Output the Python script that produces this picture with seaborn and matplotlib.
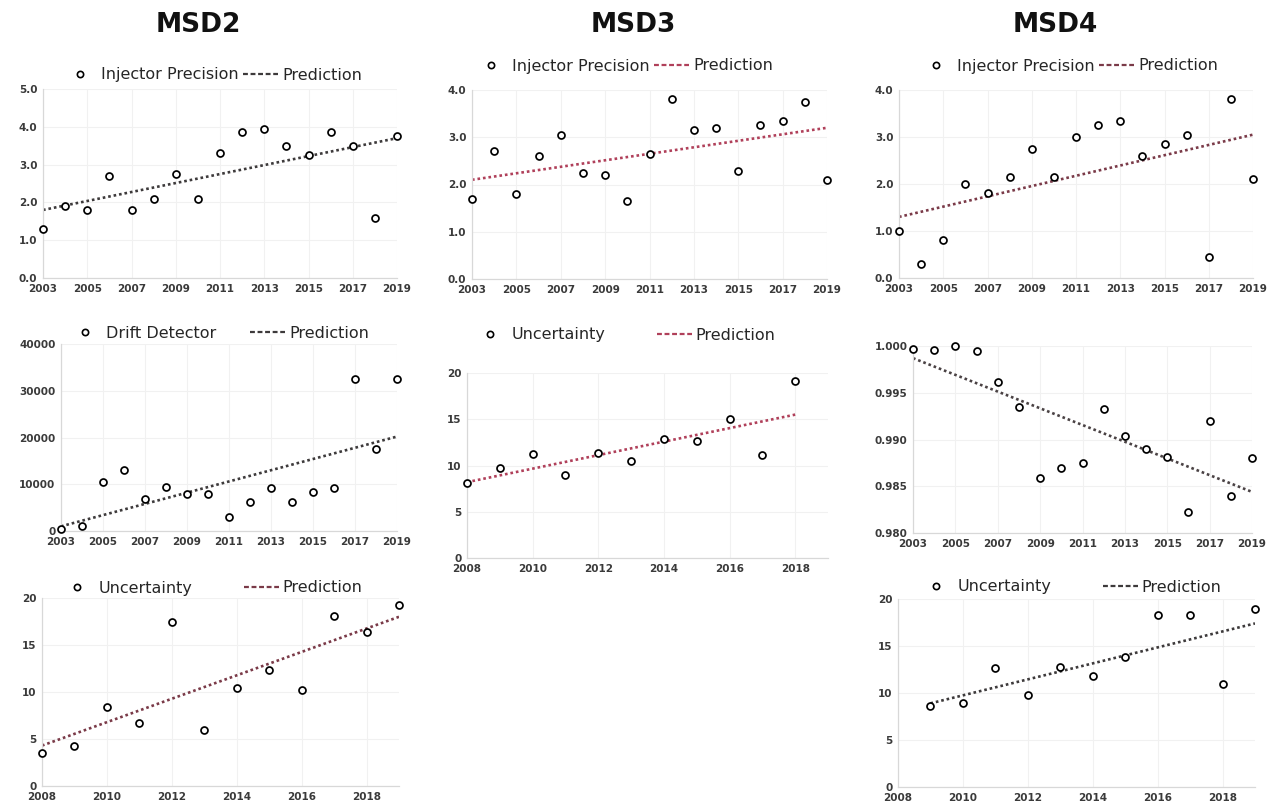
import matplotlib
matplotlib.use("Agg")
import matplotlib.pyplot as plt
from matplotlib.lines import Line2D
import seaborn as sns
import pandas as pd

# ---------------- data ----------------
years_a = [2003, 2004, 2005, 2006, 2007, 2008, 2009, 2010, 2011,
           2012, 2013, 2014, 2015, 2016, 2017, 2018, 2019]
years_b = [2008, 2009, 2010, 2011, 2012, 2013, 2014, 2015, 2016, 2017, 2018]
years_c = [2008, 2009, 2010, 2011, 2012, 2013, 2014, 2015, 2016, 2017, 2018, 2019]
years_d = [2009, 2010, 2011, 2012, 2013, 2014, 2015, 2016, 2017, 2018, 2019]

msd2_injector = [1.3, 1.9, 1.8, 2.7, 1.8, 2.1, 2.75, 2.1, 3.3, 3.85, 3.95,
                 3.5, 3.25, 3.85, 3.5, 1.6, 3.75]
msd3_injector = [1.7, 2.7, 1.8, 2.6, 3.05, 2.25, 2.2, 1.65, 2.65, 3.8, 3.15,
                 3.2, 2.28, 3.25, 3.35, 3.75, 2.1]
msd4_injector = [1.0, 0.3, 0.8, 2.0, 1.8, 2.15, 2.75, 2.15, 3.0, 3.25, 3.35,
                 2.6, 2.85, 3.05, 0.45, 3.8, 2.1]
msd2_drift = [500, 1000, 10500, 13000, 6800, 9500, 8000, 8000, 3000, 6300,
              9300, 6300, 8300, 9300, 32500, 17500, 32500]
msd3_uncert = [8.1, 9.7, 11.2, 9.0, 11.4, 10.5, 12.9, 12.6, 15.0, 11.1, 19.1]
msd4_score = [0.9997, 0.9996, 1.0000, 0.9995, 0.9962, 0.9935, 0.9859, 0.9869,
              0.9875, 0.9933, 0.9904, 0.9890, 0.9881, 0.9822, 0.9920, 0.9840,
              0.9880]
msd2_uncert = [3.5, 4.3, 8.4, 6.7, 17.4, 6.0, 10.4, 12.3, 10.2, 18.1, 16.4, 19.3]
msd4_uncert = [8.6, 8.9, 12.7, 9.8, 12.8, 11.8, 13.8, 18.3, 18.3, 11.0, 18.9]

# prediction (trend line) end values
pred_msd2_injector = [1.8, 3.7]
pred_msd3_injector = [2.1, 3.2]
pred_msd4_injector = [1.3, 3.05]
pred_msd2_drift = [1000, 20200]
pred_msd3_uncert = [8.2, 15.5]
pred_msd4_score = [0.9987, 0.9844]
pred_msd2_uncert = [4.3, 18.0]
pred_msd4_uncert = [8.9, 17.4]

titles = ["MSD2", "MSD3", "MSD4"]
ticks_odd = [2003, 2005, 2007, 2009, 2011, 2013, 2015, 2017, 2019]
ticks_even = [2008, 2010, 2012, 2014, 2016, 2018]

# ---------------- style ----------------
sns.set_theme(style="white")
plt.rcParams["font.family"] = ["DejaVu Sans"]

W, H = 1269, 807
fig = plt.figure(figsize=(W / 100, H / 100), dpi=100)
fig.patch.set_facecolor("white")


def ax_at(l, r, t, b):
    return fig.add_axes([l / W, 1 - b / H, (r - l) / W, (b - t) / H])


def panel(box, xs, ys, pred, xlim, ylim, yticks, yfmt, xticks, color,
          label=None, leg_center=None, colsp=0.3):
    ax = ax_at(*box)
    df = pd.DataFrame({"year": xs, "value": ys})
    sns.lineplot(x=[xs[0], xs[-1]], y=pred, ax=ax, color=color,
                 linestyle=(0, (1, 1.1)), linewidth=1.9, zorder=2)
    sns.scatterplot(data=df, x="year", y="value", ax=ax, marker="o", s=25,
                    facecolor="white", edgecolor="black", linewidth=1.25,
                    legend=False, zorder=3, clip_on=False)
    ax.set_xlim(*xlim)
    ax.set_ylim(*ylim)
    ax.set_xticks(xticks)
    ax.set_xticklabels([str(t) for t in xticks])
    ax.set_yticks(yticks)
    ax.set_yticklabels([yfmt.format(v) for v in yticks])
    ax.set_xlabel("")
    ax.set_ylabel("")
    ax.tick_params(length=0, labelsize=7.5, labelcolor="#3a3a3a", pad=4)
    for lab in ax.get_xticklabels() + ax.get_yticklabels():
        lab.set_fontweight("bold")
    ax.grid(True, color="#f1f1f1", linewidth=0.8)
    for s in ["top", "right"]:
        ax.spines[s].set_visible(False)
    for s in ["left", "bottom"]:
        ax.spines[s].set_color("#d8d8d8")
        ax.spines[s].set_linewidth(0.9)
    if label is not None:
        handles = [
            Line2D([], [], linestyle="none", marker="o", markersize=4.5,
                   markerfacecolor="white", markeredgecolor="black",
                   markeredgewidth=1.2),
            Line2D([], [], color=color, linestyle=(0, (2.2, 1.2)),
                   linewidth=1.6),
        ]
        fig.legend(handles, [label, "Prediction"], loc="center",
                   bbox_to_anchor=(leg_center[0] / W, 1 - leg_center[1] / H),
                   bbox_transform=fig.transFigure, ncol=2, frameon=False,
                   fontsize=11.5, handlelength=2.2, handletextpad=0.25,
                   columnspacing=colsp, borderpad=0, borderaxespad=0)
    return ax


dark = "#3d3a3b"
red = "#b0405a"
maroon = "#7a3a48"

# row 1: injector precision
panel((43, 397, 89, 278), years_a, msd2_injector, pred_msd2_injector,
      (2003, 2019), (0, 5), [0, 1, 2, 3, 4, 5], "{:.1f}", ticks_odd, dark,
      "Injector Precision", (212, 75), 0.25)
panel((472, 827, 90, 279), years_a, msd3_injector, pred_msd3_injector,
      (2003, 2019), (0, 4), [0, 1, 2, 3, 4], "{:.1f}", ticks_odd, red,
      "Injector Precision", (623, 66), 0.25)
panel((899, 1253, 90, 278), years_a, msd4_injector, pred_msd4_injector,
      (2003, 2019), (0, 4), [0, 1, 2, 3, 4], "{:.1f}", ticks_odd, maroon,
      "Injector Precision", (1068, 66), 0.25)

# row 2
panel((61, 397, 344, 531), years_a, msd2_drift, pred_msd2_drift,
      (2003, 2019), (0, 40000), [0, 10000, 20000, 30000, 40000], "{:d}",
      ticks_odd, dark, "Drift Detector", (218, 333), 2.1)
panel((467, 828, 373, 558), years_b, msd3_uncert, pred_msd3_uncert,
      (2008, 2019), (0, 20), [0, 5, 10, 15, 20], "{:d}", ticks_even, red,
      "Uncertainty", (624, 335), 3.2)
panel((913, 1252, 346, 533), years_a, msd4_score, pred_msd4_score,
      (2003, 2019), (0.980, 1.000), [0.980, 0.985, 0.990, 0.995, 1.000],
      "{:.3f}", ticks_odd, "#4a4244")

# row 3
panel((42, 399, 598, 786), years_c, msd2_uncert, pred_msd2_uncert,
      (2008, 2019), (0, 20), [0, 5, 10, 15, 20], "{:d}", ticks_even, maroon,
      "Uncertainty", (211, 588), 3.2)
panel((898, 1255, 599, 787), years_d, msd4_uncert, pred_msd4_uncert,
      (2008, 2019), (0, 20), [0, 5, 10, 15, 20], "{:d}", ticks_even, dark,
      "Uncertainty", (1070, 587), 3.2)

# column titles
for name, xc in zip(titles, [198, 633, 1055]):
    fig.text(xc / W, 1 - 25 / H, name, ha="center", va="center",
             fontsize=19, fontweight="bold", color="#111111")

fig.savefig("out.png", dpi=100, facecolor="white")
